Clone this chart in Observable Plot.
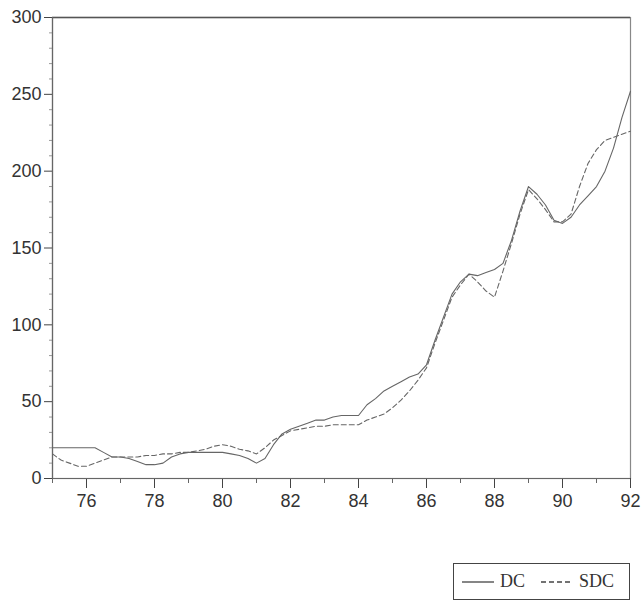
<!DOCTYPE html>
<html>
<head>
<meta charset="utf-8">
<script src="https://cdn.jsdelivr.net/npm/d3@7"></script>
<script src="https://cdn.jsdelivr.net/npm/@observablehq/plot@0.6"></script>
<style>
  body { margin: 0; background: #fff; font-family: "Liberation Sans", Arial, sans-serif; }
  #chart { width: 642px; }
  #legend { position: absolute; left: 453px; top: 563px; width: 177px; height: 37px;
            border: 1.5px solid #444; box-sizing: border-box; display: flex; align-items: center;
            font-family: "Liberation Serif", serif; font-size: 18px; color: #333; }
  #legend svg { display: block; }
</style>
</head>
<body>
<div id="chart"></div>
<div id="legend"></div>
<script>
const quarters = [
  75.0, 75.25, 75.5, 75.75, 76.0, 76.25, 76.5, 76.75, 77.0, 77.25, 77.5, 77.75,
  78.0, 78.25, 78.5, 78.75, 79.0, 79.25, 79.5, 79.75, 80.0, 80.25, 80.5, 80.75,
  81.0, 81.25, 81.5, 81.75, 82.0, 82.25, 82.5, 82.75, 83.0, 83.25, 83.5, 83.75,
  84.0, 84.25, 84.5, 84.75, 85.0, 85.25, 85.5, 85.75, 86.0, 86.25, 86.5, 86.75,
  87.0, 87.25, 87.5, 87.75, 88.0, 88.25, 88.5, 88.75, 89.0, 89.25, 89.5, 89.75,
  90.0, 90.25, 90.5, 90.75, 91.0, 91.25, 91.5, 91.75, 92.0
];
const dc = [
  20, 20, 20, 20, 20, 20, 17, 14, 14, 13, 11, 9,
  9, 10, 14, 16, 17, 17, 17, 17, 17, 16, 15, 13,
  10, 13, 22, 29, 32, 34, 36, 38, 38, 40, 41, 41,
  41, 48, 52, 57, 60, 63, 66, 68, 74, 90, 105, 120,
  128, 133, 132, 134, 136, 140, 155, 174, 190, 185, 178, 168,
  166, 170, 178, 184, 190, 200, 215, 235, 252
];
const sdc = [
  16, 12, 10, 8, 8, 10, 12, 14, 14, 14, 14, 15,
  15, 16, 16, 17, 17, 18, 19, 21, 22, 21, 19, 18,
  16, 20, 25, 28, 31, 32, 33, 34, 34, 35, 35, 35,
  35, 38, 40, 42, 46, 51, 57, 64, 72, 88, 103, 118,
  126, 133, 128, 122, 118, 135, 153, 172, 188, 182, 175, 167,
  167, 172, 190, 205, 214, 220, 222, 224, 226
];
const majorYears = [76, 78, 80, 82, 84, 86, 88, 90, 92];
const minorYears = [75, 77, 79, 81, 83, 85, 87, 89, 91];
const yTicks = [0, 50, 100, 150, 200, 250, 300];
const yMinor = [10, 20, 30, 40, 60, 70, 80, 90, 110, 120, 130, 140, 160, 170, 180, 190, 210, 220, 230, 240, 260, 270, 280, 290];
const seriesNames = ["DC", "SDC"];

const rows = [];
quarters.forEach((q, i) => {
  rows.push({t: q, v: dc[i], s: "DC"});
  rows.push({t: q, v: sdc[i], s: "SDC"});
});

const ink = "#666";
const chart = Plot.plot({
  width: 642,
  height: 540,
  marginTop: 17,
  marginBottom: 62,
  marginLeft: 52,
  marginRight: 12,
  style: {fontFamily: "Liberation Sans, Arial, sans-serif", fontSize: "18px", color: "#333", background: "#fff"},
  x: {domain: [75, 92]},
  y: {domain: [0, 300]},
  marks: [
    Plot.frame({stroke: "#888", strokeWidth: 1.2}),
    Plot.ruleY([300], {stroke: "#555", strokeWidth: 1.6}),
    Plot.axisX({ticks: majorYears, tickSize: 10, tickPadding: 6, tickFormat: d => String(d), fontSize: 18, stroke: "#444", fill: "#333", label: null}),
    Plot.axisX({ticks: minorYears, tickSize: 5, tickFormat: () => "", stroke: "#666", label: null}),
    Plot.axisY({ticks: yTicks, tickSize: 8, tickPadding: 3, fontSize: 18, stroke: "#444", fill: "#333", label: null}),
    Plot.axisY({ticks: yMinor, tickSize: 3, tickFormat: () => "", stroke: "#999", label: null}),
    Plot.ruleX([75], {stroke: "#666", strokeWidth: 1.2}),
    Plot.ruleY([0], {stroke: "#666", strokeWidth: 1.2}),
    Plot.line(rows.filter(d => d.s === "DC"), {x: "t", y: "v", stroke: ink, strokeWidth: 1.1}),
    Plot.line(rows.filter(d => d.s === "SDC"), {x: "t", y: "v", stroke: ink, strokeWidth: 1.1, strokeDasharray: "5,3"})
  ]
});
document.getElementById("chart").appendChild(chart);

// legend
const leg = document.getElementById("legend");
const items = [{name: seriesNames[0], dash: null}, {name: seriesNames[1], dash: "5,3"}];
items.forEach((it, i) => {
  const wrap = document.createElement("div");
  wrap.style.display = "flex";
  wrap.style.alignItems = "center";
  wrap.style.marginLeft = i === 0 ? "6px" : "14px";
  const s = d3.create("svg").attr("width", 36).attr("height", 12);
  s.append("line").attr("x1", 2).attr("x2", 34).attr("y1", 6).attr("y2", 6)
    .attr("stroke", "#444").attr("stroke-width", 1.3).attr("stroke-dasharray", it.dash);
  wrap.appendChild(s.node());
  const t = document.createElement("span");
  t.textContent = it.name;
  t.style.marginLeft = "4px";
  wrap.appendChild(t);
  leg.appendChild(wrap);
});
</script>
</body>
</html>
